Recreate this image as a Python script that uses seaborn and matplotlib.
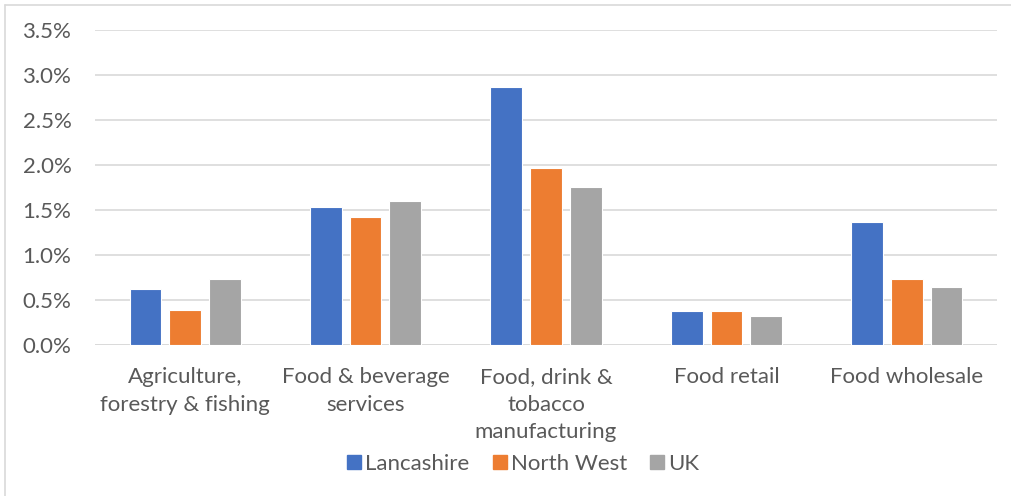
import matplotlib
matplotlib.use("Agg")
import matplotlib.pyplot as plt
import matplotlib.lines as mlines
from matplotlib.ticker import FuncFormatter, MultipleLocator
import seaborn as sns
import pandas as pd

categories = [
    "Agriculture,\nforestry & fishing",
    "Food & beverage\nservices",
    "Food, drink &\ntobacco\nmanufacturing",
    "Food retail",
    "Food wholesale",
]
regions = ["Lancashire", "North West", "UK"]
lancashire = [0.62, 1.53, 2.87, 0.38, 1.37]
north_west = [0.39, 1.42, 1.97, 0.38, 0.73]
uk = [0.73, 1.60, 1.75, 0.32, 0.65]
colors = ["#4472C4", "#ED7D31", "#A5A5A5"]

rows = []
for region, vals in zip(regions, [lancashire, north_west, uk]):
    for cat, v in zip(categories, vals):
        rows.append({"Sector": cat, "Region": region, "Share": v / 100})
df = pd.DataFrame(rows)

sns.set_theme(style="white")
plt.rcParams["font.family"] = ["Lato", "DejaVu Sans"]
text_color = "#595959"
fs = 16

fig = plt.figure(figsize=(10.11, 4.96), dpi=100)
ax = fig.add_axes([95 / 1011, 1 - 345 / 496, (997 - 95) / 1011, (345 - 30) / 496])

sns.barplot(
    data=df, x="Sector", y="Share", hue="Region", order=categories,
    hue_order=regions, palette=colors, saturation=1, width=0.66, gap=0.2,
    edgecolor="white", linewidth=0.8, ax=ax, legend=False, zorder=3,
)

ax.set_ylim(0, 0.035)
ax.set_xlim(-0.5, len(categories) - 0.5)
ax.yaxis.set_major_locator(MultipleLocator(0.005))
ax.yaxis.set_major_formatter(FuncFormatter(lambda v, _: f"{v * 100:.1f}%"))
ax.grid(axis="y", color="#D9D9D9", linewidth=1.2, zorder=0)
ax.set_axisbelow(True)
for side in ["top", "right", "left", "bottom"]:
    ax.spines[side].set_visible(False)
ax.axhline(0, color="#D9D9D9", linewidth=1.2, zorder=2)
ax.set_xlabel("")
ax.set_ylabel("")
ax.tick_params(axis="y", length=0, pad=17, labelsize=fs, labelcolor=text_color)
ax.tick_params(axis="x", length=0, pad=16, labelsize=fs, labelcolor=text_color)
for lbl in ax.get_xticklabels():
    lbl.set_linespacing(1.46)

handles = [
    mlines.Line2D([], [], marker="s", linestyle="none", markersize=10,
                  markerfacecolor=c, markeredgecolor=c, label=r)
    for r, c in zip(regions, colors)
]
leg = fig.legend(
    handles=handles, loc="center", bbox_to_anchor=(521 / 1011, 1 - 464 / 496),
    ncol=3, frameon=False, fontsize=fs, handletextpad=0.0,
    columnspacing=0.85, handlelength=1.0,
)
for t in leg.get_texts():
    t.set_color(text_color)

# chart frame edges
fig.add_artist(mlines.Line2D([4.5 / 1011, 1], [1 - 4.5 / 496, 1 - 4.5 / 496],
                             color="#D9D9D9", linewidth=1.2))
fig.add_artist(mlines.Line2D([4.5 / 1011, 4.5 / 1011], [0, 1 - 4.5 / 496],
                             color="#D9D9D9", linewidth=1.2))

fig.savefig("out.png", dpi=100)
